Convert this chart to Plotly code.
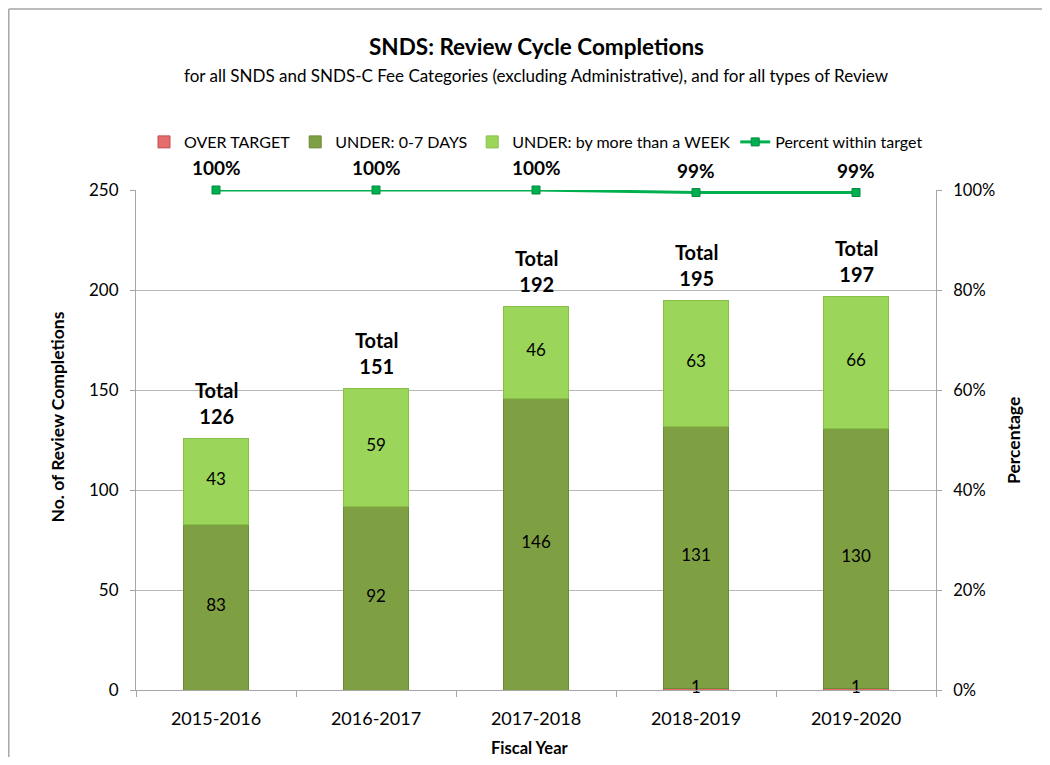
import plotly.graph_objects as go

years = ["2015-2016", "2016-2017", "2017-2018", "2018-2019", "2019-2020"]
over_target = [0, 0, 0, 1, 1]
under_0_7 = [83, 92, 146, 131, 130]
under_week = [43, 59, 46, 63, 66]

totals = [a + b + c for a, b, c in zip(over_target, under_0_7, under_week)]
pct_within = [(t - o) / t for t, o in zip(totals, over_target)]

FONT = "Lato, 'Open Sans', sans-serif"
GRAY = "#a6a6a6"

C_OVER = "#e46c6c"
C_07 = "#7f9f43"
C_WEEK = "#9bd65a"
C_LINE = "#00b050"

fig = go.Figure()

bar_w = 0.41
fig.add_trace(go.Bar(x=years, y=over_target, name="OVER TARGET",
                     marker=dict(color=C_OVER, line=dict(color="#c0504d", width=1)), width=bar_w))
fig.add_trace(go.Bar(x=years, y=under_0_7, name="UNDER: 0-7 DAYS",
                     marker=dict(color=C_07, line=dict(color="#6b8a36", width=1)), width=bar_w))
fig.add_trace(go.Bar(x=years, y=under_week, name="UNDER: by more than a WEEK",
                     marker=dict(color=C_WEEK, line=dict(color="#86c048", width=1)), width=bar_w))

fig.add_trace(go.Scatter(
    x=years, y=pct_within, name="Percent within target", yaxis="y2",
    mode="lines+markers",
    line=dict(color=C_LINE, width=3),
    marker=dict(symbol="square", size=8, color=C_LINE, line=dict(color="#008a3c", width=1)),
    cliponaxis=False,
))

# segment value labels
seg_font = dict(size=17, color="black", family=FONT)
fig.add_trace(go.Scatter(
    x=years, y=[o + u / 2 for o, u in zip(over_target, under_0_7)],
    mode="text", text=[str(v) for v in under_0_7], textfont=seg_font, showlegend=False, hoverinfo="skip"))
fig.add_trace(go.Scatter(
    x=years, y=[o + u + w / 2 for o, u, w in zip(over_target, under_0_7, under_week)],
    mode="text", text=[str(v) for v in under_week], textfont=seg_font, showlegend=False, hoverinfo="skip"))
fig.add_trace(go.Scatter(
    x=years, y=[o / 2 for o in over_target],
    mode="text", text=[str(v) if v > 0 else "" for v in over_target], textfont=seg_font,
    showlegend=False, hoverinfo="skip", cliponaxis=False))

annotations = []
for yr, t in zip(years, totals):
    annotations.append(dict(x=yr, y=t, xref="x", yref="y", text=f"<b>Total<br>{t}</b>",
                            showarrow=False, yanchor="bottom", yshift=8,
                            font=dict(size=20, color="black", family=FONT)))
for yr, p in zip(years, pct_within):
    annotations.append(dict(x=yr, y=p, xref="x", yref="y2", text=f"<b>{p:.0%}</b>",
                            showarrow=False, yanchor="bottom", yshift=9,
                            font=dict(size=19, color="black", family=FONT)))

annotations += [
    dict(x=0.5, y=1.286, xref="paper", yref="paper", text="<b>SNDS: Review Cycle Completions</b>",
         showarrow=False, xanchor="center", yanchor="middle",
         font=dict(size=22.5, color="black", family=FONT)),
    dict(x=0.5, y=1.23, xref="paper", yref="paper",
         text="for all SNDS and SNDS-C Fee Categories (excluding Administrative), and for all types of Review",
         showarrow=False, xanchor="center", yanchor="middle",
         font=dict(size=17, color="black", family=FONT)),
    dict(x=-0.09875, y=0.545, xref="paper", yref="paper", text="<b>No. of Review Completions</b>",
         textangle=-90, showarrow=False, xanchor="center", yanchor="middle",
         font=dict(size=17.5, color="black", family=FONT)),
    dict(x=1.09625, y=0.498, xref="paper", yref="paper", text="<b>Percentage</b>",
         textangle=-90, showarrow=False, xanchor="center", yanchor="middle",
         font=dict(size=17.5, color="black", family=FONT)),
    dict(x=0.4925, y=-0.116, xref="paper", yref="paper", text="<b>Fiscal Year</b>",
         showarrow=False, xanchor="center", yanchor="middle",
         font=dict(size=16.5, color="black", family=FONT)),
]

fig.update_layout(
    width=1034, height=749,
    margin=dict(l=128, r=106, t=182, b=67),
    paper_bgcolor="white", plot_bgcolor="white",
    barmode="stack",
    font=dict(family=FONT, color="black"),
    showlegend=True,
    legend=dict(orientation="h", x=0.5, xanchor="center", y=1.096, yanchor="middle",
                font=dict(size=16, family=FONT), traceorder="normal", itemwidth=30),
    annotations=annotations,
    xaxis=dict(showline=True, linecolor=GRAY, ticks="outside", tickson="boundaries", ticklen=6,
               tickcolor=GRAY, tickfont=dict(size=18, family=FONT), ticklabelstandoff=12),
    yaxis=dict(range=[0, 250], dtick=50, showgrid=True, gridcolor="#b7b7b7", showline=True, linecolor=GRAY,
               ticks="outside", ticklen=5, tickcolor=GRAY, tickfont=dict(size=17, family=FONT),
               ticklabelstandoff=8, zeroline=False),
    yaxis2=dict(range=[0, 1], dtick=0.2, tickformat=".0%", overlaying="y", side="right", showgrid=False,
                showline=True, linecolor=GRAY, ticks="outside", ticklen=5, tickcolor=GRAY,
                tickfont=dict(size=16.5, family=FONT), ticklabelstandoff=8, zeroline=False),
    shapes=[
        dict(type="line", xref="paper", yref="paper", x0=-0.159, x1=1.2, y0=1.362, y1=1.362,
             line=dict(color=GRAY, width=1.5)),
        dict(type="line", xref="paper", yref="paper", x0=-0.159, x1=-0.159, y0=-0.2, y1=1.362,
             line=dict(color=GRAY, width=1.5)),
    ],
)

fig.write_html("out.html")
